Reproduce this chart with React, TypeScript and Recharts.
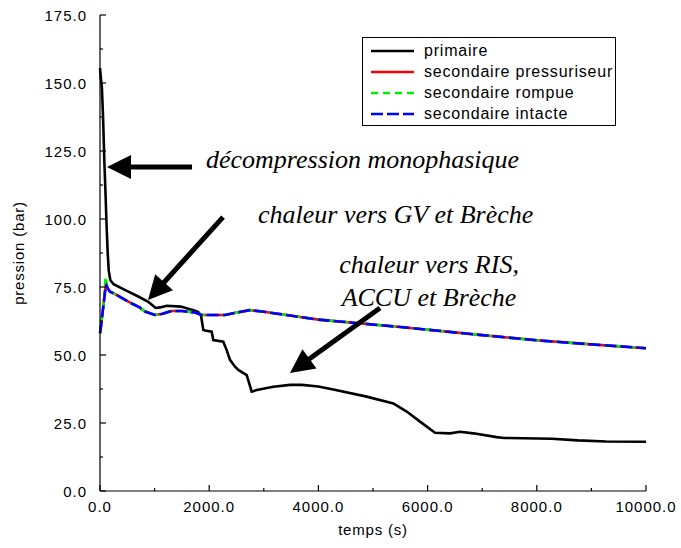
import React from 'react'
import { LineChart, Line, XAxis, YAxis, Legend, ReferenceLine, ReferenceDot } from 'recharts'

// primary circuit pressure (bar) vs time (s)
const tPrimaire = [
  0, 15, 35, 55, 80, 100, 120, 140, 160, 190, 250, 400, 520, 700, 885, 950, 1020, 1100, 1220, 1480,
  1740, 1800, 1850, 1892, 1925, 2045, 2075, 2258, 2320, 2381, 2473, 2533, 2687, 2778, 2870, 3175,
  3480, 3700, 3998, 4273, 4884, 5372, 5617, 5861, 6136, 6410, 6593, 6837, 7265, 7400, 8274, 8751,
  9268, 10000,
]
const pPrimaire = [
  155.5, 152, 148, 138, 121, 110, 98, 88, 81, 77.5, 76, 74.5, 73.3, 71.5, 69.5, 68.5, 67.3, 67.5, 68.1, 67.8,
  66.3, 65.8, 64.5, 59.2, 59.0, 58.6, 55.5, 54.9, 51.8, 48.2, 45.7, 44.5, 42.6, 36.5, 37.1, 38.3,
  39.0, 39.0, 38.4, 37.3, 34.7, 32.2, 29.2, 25.5, 21.4, 21.2, 21.8, 21.2, 19.8, 19.5, 19.2, 18.6,
  18.2, 18.1,
]

// secondary sides share the same time base
const tSecondaire = [
  0, 15, 31, 60, 85, 104, 115, 140, 183, 305, 519, 733, 824, 1007, 1130, 1313, 1496, 1740, 1862, 2289,
  2500, 2747, 3000, 3480, 4000, 5500, 7000, 8000, 9000, 10000,
]
const pPressuriseur = [
  58, 60, 62.9, 67.8, 72, 75.4, 75.7, 74.5, 73.3, 72.1, 69.6, 67.4, 66, 64.7, 65.1, 66.2, 66.2, 65.6, 64.7, 64.7,
  65.6, 66.5, 65.9, 64.5, 63.0, 60.3, 57.3, 55.4, 53.9, 52.5,
]
const pRompue = [
  58, 60, 62.9, 67.0, 73, 78.8, 77.0, 74.5, 73.3, 72.1, 69.6, 67.4, 66, 64.7, 65.1, 66.2, 66.2, 65.6, 64.7, 64.7,
  65.6, 66.5, 65.9, 64.5, 63.0, 60.3, 57.3, 55.4, 53.9, 52.5,
]
const pIntacte = [
  58, 60, 62.9, 67.8, 72, 75.4, 75.7, 74.5, 73.3, 72.1, 69.6, 67.4, 66, 64.7, 65.1, 66.2, 66.2, 65.6, 64.7, 64.7,
  65.6, 66.5, 65.9, 64.5, 63.0, 60.3, 57.3, 55.4, 53.9, 52.5,
]

const seriesNames = ['primaire', 'secondaire pressuriseur', 'secondaire rompue', 'secondaire intacte']

const xTicks = [0, 1000, 2000, 3000, 4000, 5000, 6000, 7000, 8000, 9000, 10000]
const yTicks = [0, 12.5, 25, 37.5, 50, 62.5, 75, 87.5, 100, 112.5, 125, 137.5, 150, 162.5, 175]

// annotation arrows: [tailX, tailY, tipX, tipY] in data units
const arrows = [
  [1685, 119.1, 128, 119.1],
  [2253, 100.7, 879, 70.2],
  [5128, 67.3, 3480, 43.4],
]
// annotation texts: [x, y, text, anchor]
const notes: [number, number, string, string][] = [
  [1941, 118.75, 'décompression monophasique', 'start'],
  [2894, 98.6, 'chaleur vers GV et Brèche', 'start'],
  [6026, 80.1, 'chaleur vers RIS,', 'middle'],
  [6026, 68.0, 'ACCU et Brèche', 'middle'],
]

const zip = (t: number[], p: number[]) => t.map((v, i) => ({ t: v, p: p[i] }))
const primaireData = zip(tPrimaire, pPrimaire)
const pressuriseurData = zip(tSecondaire, pPressuriseur)
const rompueData = zip(tSecondaire, pRompue)
const intacteData = zip(tSecondaire, pIntacte)

const sans = '"Liberation Sans", Arial, Helvetica, sans-serif'
const serif = '"Liberation Serif", "Times New Roman", serif'

const dashes: Record<string, string | undefined> = {
  'primaire': undefined,
  'secondaire pressuriseur': undefined,
  'secondaire rompue': '7 5',
  'secondaire intacte': '12 4',
}

const isMajorX = (v: number) => v % 2000 === 0
const isMajorY = (v: number) => v % 25 === 0

function BottomTick({ x, y, payload }: any) {
  const v = payload.value
  const major = isMajorX(v)
  return (
    <g>
      <line x1={x} x2={x} y1={y} y2={y - (major ? 6 : 3)} stroke="#000" strokeWidth={1.2} />
      {major && (
        <text x={x} y={y + 21} textAnchor="middle" fontSize={15} fontFamily={sans} letterSpacing={1} fill="#000">
          {v.toFixed(1)}
        </text>
      )}
    </g>
  )
}

function TopTick({ x, y, payload }: any) {
  const major = isMajorX(payload.value)
  return <line x1={x} x2={x} y1={y} y2={y + (major ? 6 : 3)} stroke="#000" strokeWidth={1.2} />
}

function LeftTick({ x, y, payload }: any) {
  const v = payload.value
  const major = isMajorY(v)
  return (
    <g>
      <line x1={x} x2={x + (major ? 6 : 3)} y1={y} y2={y} stroke="#000" strokeWidth={1.2} />
      {major && (
        <text x={x - 13} y={y + 5.5} textAnchor="end" fontSize={15} fontFamily={sans} letterSpacing={1} fill="#000">
          {v.toFixed(1)}
        </text>
      )}
    </g>
  )
}

function RightTick({ x, y, payload }: any) {
  const major = isMajorY(payload.value)
  return <line x1={x} x2={x - (major ? 6 : 3)} y1={y} y2={y} stroke="#000" strokeWidth={1.2} />
}

function Arrow({ x1, y1, x2, y2 }: any) {
  const dx = x2 - x1
  const dy = y2 - y1
  const len = Math.hypot(dx, dy)
  const ux = dx / len
  const uy = dy / len
  const hl = 24
  const hw = 12
  const bx = x2 - ux * hl
  const by = y2 - uy * hl
  return (
    <g>
      <line x1={x1} y1={y1} x2={bx + ux * 2} y2={by + uy * 2} stroke="#000" strokeWidth={5} />
      <polygon
        points={`${x2},${y2} ${bx - uy * hw},${by + ux * hw} ${bx + uy * hw},${by - ux * hw}`}
        fill="#000"
      />
    </g>
  )
}

function LegendBox({ payload }: any) {
  // keep the series order rather than the legend's default alphabetical order
  const items = [...(payload || [])].sort(
    (a: any, b: any) => seriesNames.indexOf(a.value) - seriesNames.indexOf(b.value),
  )
  return (
    <div
      style={{
        border: '1.2px solid #000',
        background: '#fff',
        width: 254,
        height: 89,
        boxSizing: 'border-box',
        padding: '2px 0 0 8px',
      }}
    >
      {items.map((entry: any) => (
        <div key={entry.value} style={{ display: 'flex', alignItems: 'center', height: 21 }}>
          <svg width={43} height={6} style={{ display: 'block' }}>
            <line
              x1={0}
              x2={43}
              y1={3}
              y2={3}
              stroke={entry.color}
              strokeWidth={2.5}
              strokeDasharray={dashes[entry.value]}
            />
          </svg>
          <span style={{ marginLeft: 10, fontSize: 16, letterSpacing: 0.8, fontFamily: sans, color: '#000', lineHeight: '21px' }}>
            {entry.value}
          </span>
        </div>
      ))}
    </div>
  )
}

export default function App() {
  return (
    <div style={{ width: 681, height: 548, background: '#fff' }}>
      <style>{'body{margin:0;background:#fff}'}</style>
      <LineChart width={681} height={548} margin={{ top: 15, right: 35, bottom: 0, left: 0 }}>
        <XAxis
          xAxisId={0}
          type="number"
          dataKey="t"
          domain={[0, 10000]}
          ticks={xTicks}
          interval={0}
          height={57}
          tickSize={0}
          tickMargin={0}
          tick={<BottomTick />}
          axisLine={{ stroke: '#000', strokeWidth: 1.2 }}
          label={{
            content: (p: any) => {
              const vb = p.viewBox
              return (
                <text x={vb.x + vb.width / 2} y={535} textAnchor="middle" fontSize={15} fontFamily={sans} letterSpacing={0.8} fill="#000">
                  temps (s)
                </text>
              )
            },
          }}
        />
        <XAxis
          xAxisId="top"
          orientation="top"
          type="number"
          dataKey="t"
          domain={[0, 10000]}
          ticks={xTicks}
          interval={0}
          height={0}
          tickSize={0}
          tickMargin={0}
          tick={<TopTick />}
          axisLine={{ stroke: '#000', strokeWidth: 1.2 }}
        />
        <YAxis
          yAxisId={0}
          type="number"
          domain={[0, 175]}
          ticks={yTicks}
          interval={0}
          width={100}
          tickSize={0}
          tickMargin={0}
          tick={<LeftTick />}
          axisLine={{ stroke: '#000', strokeWidth: 1.2 }}
          label={{
            content: (p: any) => {
              const vb = p.viewBox
              const cy = vb.y + vb.height / 2
              return (
                <text
                  x={18}
                  y={cy}
                  transform={`rotate(-90 18 ${cy})`}
                  textAnchor="middle"
                  dominantBaseline="central"
                  fontSize={15}
                  fontFamily={sans}
                  letterSpacing={0.8}
                  fill="#000"
                >
                  pression (bar)
                </text>
              )
            },
          }}
        />
        <YAxis
          yAxisId="right"
          orientation="right"
          type="number"
          domain={[0, 175]}
          ticks={yTicks}
          interval={0}
          width={0}
          tickSize={0}
          tickMargin={0}
          tick={<RightTick />}
          axisLine={{ stroke: '#000', strokeWidth: 1.2 }}
        />

        <Line data={primaireData} dataKey="p" name="primaire" type="linear" stroke="#000" strokeWidth={2.6} dot={false} isAnimationActive={false} />
        <Line data={pressuriseurData} dataKey="p" name="secondaire pressuriseur" type="linear" stroke="#ff0000" strokeWidth={2.6} dot={false} isAnimationActive={false} />
        <Line data={rompueData} dataKey="p" name="secondaire rompue" type="linear" stroke="#00ee00" strokeWidth={2.6} strokeDasharray="7 5" dot={false} isAnimationActive={false} />
        <Line data={intacteData} dataKey="p" name="secondaire intacte" type="linear" stroke="#0000ff" strokeWidth={2.6} strokeDasharray="12 4" dot={false} isAnimationActive={false} />

        {arrows.map(([x1, y1, x2, y2], i) => (
          <ReferenceLine
            key={'a' + i}
            segment={[{ x: x1, y: y1 }, { x: x2, y: y2 }]}
            stroke="#000"
            shape={(p: any) => <Arrow {...p} />}
          />
        ))}
        {notes.map(([x, y, text, anchor], i) => (
          <ReferenceDot
            key={'n' + i}
            x={x}
            y={y}
            r={0}
            stroke="none"
            fill="none"
            shape={(p: any) => (
              <text x={p.cx} y={p.cy} textAnchor={anchor} fontSize={26} fontStyle="italic" fontFamily={serif} fill="#000">
                {text}
              </text>
            )}
          />
        ))}

        <Legend
          layout="vertical"
          align="center"
          verticalAlign="middle"
          content={<LegendBox />}
          wrapperStyle={{ position: 'absolute', left: 362, top: 37, width: 254, height: 89 }}
        />
      </LineChart>
    </div>
  )
}
